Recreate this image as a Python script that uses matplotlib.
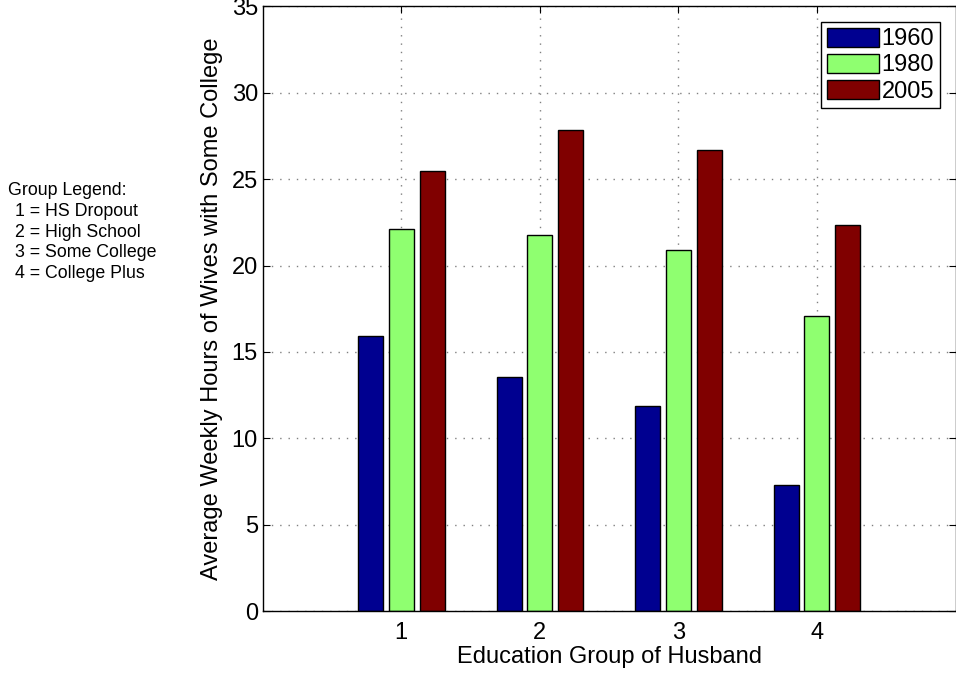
import numpy as np
from matplotlib import pyplot as plt

plt.rcParams['font.family'] = ['Liberation Sans', 'DejaVu Sans']

groups = [1, 2, 3, 4]
years = ['1960', '1980', '2005']
hours_1960 = [15.93, 13.55, 11.85, 7.3]
hours_1980 = [22.1, 21.75, 20.9, 17.1]
hours_2005 = [25.5, 27.83, 26.7, 22.35]
colors = ['#000090', '#8FFF70', '#800000']
group_names = ['HS Dropout', 'High School', 'Some College', 'College Plus']

fig = plt.figure(figsize=(9.56, 6.75), dpi=100)
ax = fig.add_axes([0.2748, 0.0948, 0.7247, 0.8956])

x = np.array(groups)
offset = 0.222
width = 0.18
for i, (vals, year) in enumerate(zip([hours_1960, hours_1980, hours_2005], years)):
    ax.bar(x + (i - 1) * offset, vals, width, color=colors[i], edgecolor='black',
           linewidth=1, label=year, zorder=3)

ax.set_xlim(0, 5)
ax.set_ylim(0, 35)
ax.set_xticks(groups)
ax.set_yticks(range(0, 36, 5))
ax.grid(True, linestyle=(0, (1, 5)), color='#808080', linewidth=1, zorder=0)
ax.set_axisbelow(True)
ax.tick_params(direction='in', length=5, labelsize=17, top=True, right=True)
ax.tick_params(axis='x', pad=8)
for s in ax.spines.values():
    s.set_linewidth(1)
    s.set_zorder(5)

ax.set_xlabel('Education Group of Husband', fontsize=17, labelpad=1)
ax.set_ylabel('Average Weekly Hours of Wives with Some College', fontsize=17, labelpad=6)

leg = ax.legend(loc='upper right', fontsize=17, fancybox=False, edgecolor='black',
                framealpha=1, handlelength=2.2, handleheight=0.85, labelspacing=0.15,
                handletextpad=0.1, borderpad=0.25, borderaxespad=0.65)
leg.get_frame().set_linewidth(1)

fig.text(0.008, 0.73, 'Group Legend:', fontsize=12.8, va='top', ha='left')
fig.text(0.016, 0.699, '\n'.join('%d = %s' % (g, n) for g, n in zip(groups, group_names)),
         fontsize=12.8, va='top', ha='left', linespacing=1.27)

fig.savefig('out.png', dpi=100)
